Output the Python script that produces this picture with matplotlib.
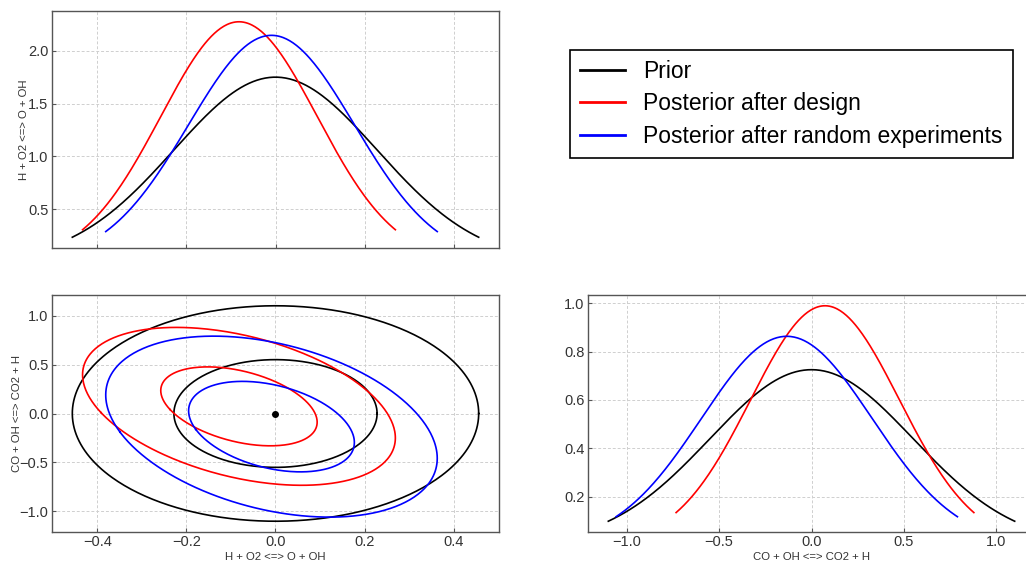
import numpy as np
import matplotlib.pyplot as plt

plt.rcParams['font.family'] = ['Liberation Sans', 'DejaVu Sans']

labels = ["Prior", "Posterior after design", "Posterior after random experiments"]
colors = ["black", "red", "blue"]

# Gaussian parameters: (H + O2 <=> O + OH, CO + OH <=> CO2 + H)
means = [[0.0, 0.0], [-0.082, 0.073], [-0.009, -0.134]]
stds = [[0.228, 0.55], [0.1755, 0.403], [0.186, 0.462]]
rhos = [0.0, -0.40, -0.35]
true_point = [0.0, 0.0]

xname = "H + O2 <=> O + OH"
yname = "CO + OH <=> CO2 + H"

grid_kw = dict(color="#cfcfcf", linestyle=(0, (3, 2)), linewidth=0.7)
W, H = 1026, 562
lab_kw = dict(fontsize=8.2, color="#333333")


def ax_pos(left, top, right, bottom):
    return [left / W, 1 - bottom / H, (right - left) / W, (bottom - top) / H]


def style(ax):
    ax.grid(True, **grid_kw)
    ax.set_axisbelow(True)
    ax.tick_params(direction="in", length=3, pad=2.5, color="#555555",
                   labelsize=10.5, labelcolor="#333333")
    for s in ax.spines.values():
        s.set_color("#555555")
        s.set_linewidth(1.0)


def marginal(mu, sd):
    x = np.linspace(mu - 2 * sd, mu + 2 * sd, 300)
    y = np.exp(-0.5 * ((x - mu) / sd) ** 2) / (sd * np.sqrt(2 * np.pi))
    return x, y


fig = plt.figure(figsize=(W / 100, H / 100), dpi=100)
ax_top = fig.add_axes(ax_pos(52, 11, 499, 248))
ax_2d = fig.add_axes(ax_pos(52, 295, 499, 532))
ax_right = fig.add_axes(ax_pos(588, 295, 1035, 532))

for mu, sd, rho, c, lab in zip(means, stds, rhos, colors, labels):
    # top: marginal of first parameter
    x, y = marginal(mu[0], sd[0])
    ax_top.plot(x, y, color=c, lw=1.2, label=lab)
    # right: marginal of second parameter
    x, y = marginal(mu[1], sd[1])
    ax_right.plot(x, y, color=c, lw=1.2)
    # 2d: 1 and 2 sigma ellipses
    cov = np.array([[sd[0] ** 2, rho * sd[0] * sd[1]],
                    [rho * sd[0] * sd[1], sd[1] ** 2]])
    vals, vecs = np.linalg.eigh(cov)
    t = np.linspace(0, 2 * np.pi, 400)
    circ = np.vstack([np.cos(t), np.sin(t)])
    pts = vecs @ (np.sqrt(vals)[:, None] * circ)
    for n in (1, 2):
        ax_2d.plot(mu[0] + n * pts[0], mu[1] + n * pts[1], color=c, lw=1.2)

ax_2d.plot(true_point[0], true_point[1], "o", color="black", ms=4)

for ax in (ax_top, ax_2d, ax_right):
    style(ax)

ticks_x = [-0.4, -0.2, 0.0, 0.2, 0.4]
ax_top.set_xticks(ticks_x)
ax_top.set_xticklabels([])
ax_top.set_yticks([0.5, 1.0, 1.5, 2.0])
ax_top.set_ylabel(xname, **lab_kw)
ax_top.yaxis.set_label_coords(-0.052, 0.5)

ax_2d.set_xticks(ticks_x)
ax_2d.set_yticks([-1.0, -0.5, 0.0, 0.5, 1.0])
ax_2d.set_xlabel(xname, **lab_kw)
ax_2d.set_ylabel(yname, **lab_kw)
ax_2d.xaxis.set_label_coords(0.5, -0.085)
ax_2d.yaxis.set_label_coords(-0.068, 0.5)

ax_right.set_xticks([-1.0, -0.5, 0.0, 0.5, 1.0])
ax_right.set_yticks([0.2, 0.4, 0.6, 0.8, 1.0])
ax_right.set_xlabel(yname, **lab_kw)
ax_right.xaxis.set_label_coords(0.5, -0.085)

handles, labs = ax_top.get_legend_handles_labels()
leg = fig.legend(handles, labs, loc="upper left",
                 bbox_to_anchor=(570 / W, 1 - 50 / H), borderaxespad=0,
                 fontsize=16.5, fancybox=False, framealpha=1,
                 edgecolor="black", handlelength=1.95, borderpad=0.45,
                 labelspacing=0.4, handletextpad=0.8)
leg.get_frame().set_linewidth(1.2)
for line in leg.get_lines():
    line.set_linewidth(2)

fig.savefig("out.png", dpi=100)
